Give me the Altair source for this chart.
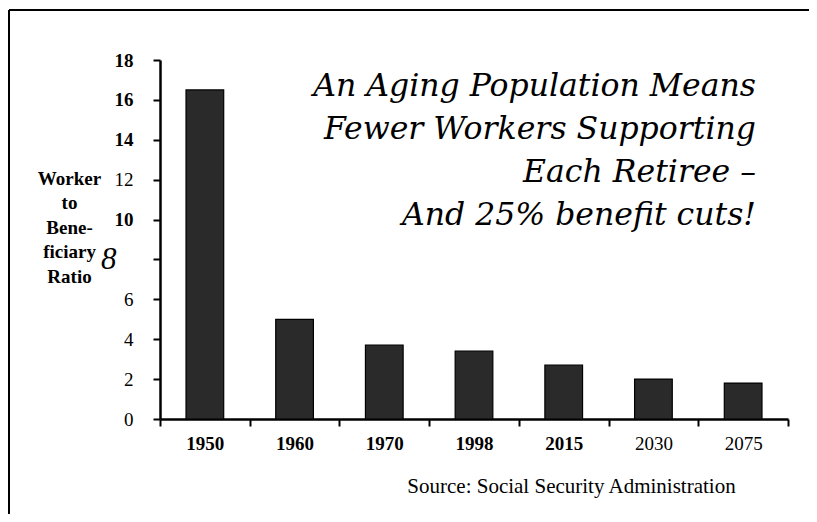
import altair as alt
import pandas as pd

years = ["1950", "1960", "1970", "1998", "2015", "2030", "2075"]
ratios = [16.5, 5.0, 3.7, 3.4, 2.7, 2.0, 1.8]
y_ticks = [0, 2, 4, 6, 8, 10, 12, 14, 16, 18]
title_lines = ["An Aging Population Means", "Fewer Workers Supporting",
               "Each Retiree \u2013", "And 25% benefit cuts!"]
y_title = ["Worker", "to", "Bene-", "ficiary", "Ratio"]
source_text = "Source: Social Security Administration"

df = pd.DataFrame({"year": years, "ratio": ratios})

W, H = 628, 359
PL, PT = 152, 52
TOTW, TOTH = 801, 506

bars = alt.Chart(df).mark_bar(
    width=alt.RelativeBandSize(0.42), color="#2a2a2a", stroke="#000000", strokeWidth=1.2
).encode(
    x=alt.X("year:N", sort=years,
            scale=alt.Scale(paddingInner=0, paddingOuter=0),
            axis=alt.Axis(
                title=source_text, titleFont="Liberation Serif", titleFontSize=21,
                titleFontWeight="normal", titleColor="#000", titleX=411, titleY=73,
                titleAlign="center", titleBaseline="alphabetic",
                labelFont="Liberation Serif", labelFontSize=19, labelColor="#000",
                labelFontWeight=alt.condition("datum.value == '2030' || datum.value == '2075'",
                                              alt.value("normal"), alt.value("bold")),
                labelAngle=0, labelPadding=8, tickBand="extent", tickSize=7, tickWidth=2,
                tickColor="#000", domainColor="#000", domainWidth=2.5)),
    y=alt.Y("ratio:Q", scale=alt.Scale(domain=[0, 18], nice=False),
            axis=alt.Axis(
                values=y_ticks, title=y_title, titleFont="Liberation Serif", titleFontSize=19,
                titleFontWeight="bold", titleColor="#000", titleAngle=0, titleX=-91, titleY=124,
                titleAlign="center", titleBaseline="alphabetic", titleLineHeight=24.5,
                labelFont="Liberation Serif", labelColor="#000",
                labelFontSize=alt.condition("datum.value == 8", alt.value(31), alt.value(19)),
                labelFontStyle=alt.condition("datum.value == 8", alt.value("italic"), alt.value("normal")),
                labelFontWeight=alt.condition(
                    "datum.value == 18 || datum.value == 16 || datum.value == 14 || datum.value == 10",
                    alt.value("bold"), alt.value("normal")),
                labelPadding=alt.condition("datum.value == 8", alt.value(37), alt.value(20)),
                grid=False, tickSize=7, tickWidth=2, tickColor="#000",
                domainColor="#000", domainWidth=2.5)),
)

frame_df = pd.DataFrame({"k": [0]})
top_line = alt.Chart(frame_df).mark_rule(color="#000", strokeWidth=2).encode(
    x=alt.value(-PL + 1), x2=alt.value(TOTW - PL), y=alt.value(-PT + 2))
left_line = alt.Chart(frame_df).mark_rule(color="#000", strokeWidth=2).encode(
    x=alt.value(-PL + 1), y=alt.value(-PT + 2), y2=alt.value(TOTH - PT))

chart = alt.layer(bars, top_line, left_line).properties(
    width=W, height=H,
    autosize=alt.AutoSizeParams(type="none"),
    padding={"left": PL, "top": PT, "right": TOTW - PL - W, "bottom": TOTH - PT - H},
    title=alt.TitleParams(
        text=title_lines, anchor="end", orient="top", font="DejaVu Serif",
        fontStyle="italic", fontWeight="normal", fontSize=31.5, color="#000",
        lineHeight=43, baseline="top", dx=-54, dy=222, offset=0),
    background="white",
).configure_view(stroke=None)

chart.save("out.html", embed_options={"renderer": "svg", "actions": False})
